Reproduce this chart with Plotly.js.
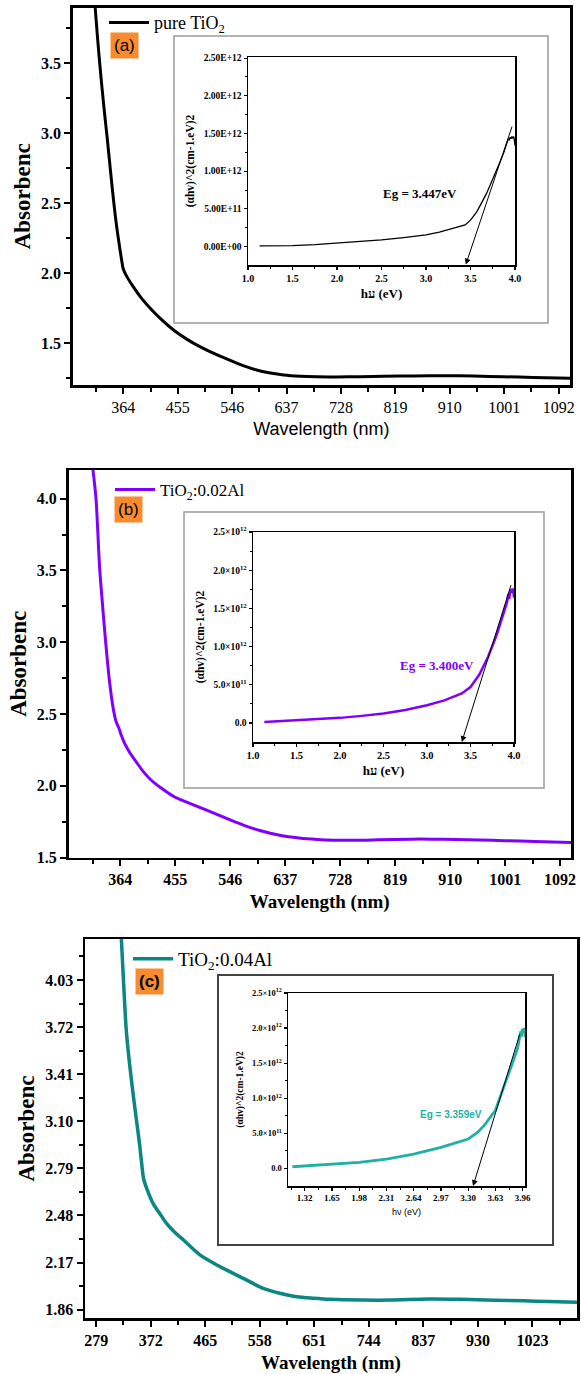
<!DOCTYPE html>
<html>
<head>
<meta charset="utf-8">
<script src="https://cdn.plot.ly/plotly-3.0.1.min.js"></script>
<style>html,body{margin:0;padding:0;background:#fff;}#chart{width:581px;height:1374px;}</style>
</head>
<body>
<div id="chart"></div>
<script>
// ---------- DATA ----------
// Panel (a) pure TiO2
const wavelengthA = [317, 321, 325, 329, 333, 337, 341, 345, 349, 353, 357, 361, 364, 370, 380, 394, 409, 428, 448, 470, 492, 520, 548, 567, 587, 610, 632, 660, 687, 720, 760, 800, 850, 900, 950, 1000, 1050, 1111];
const absorbA     = [3.90, 3.68, 3.48, 3.30, 3.13, 2.97, 2.80, 2.63, 2.47, 2.33, 2.21, 2.10, 2.03, 1.975, 1.907, 1.823, 1.749, 1.667, 1.593, 1.528, 1.474, 1.417, 1.367, 1.335, 1.307, 1.286, 1.272, 1.263, 1.259, 1.258, 1.259, 1.262, 1.265, 1.266, 1.264, 1.259, 1.254, 1.248];
// Panel (b) TiO2:0.02Al
const wavelengthB = [319, 324, 330, 335, 340, 346, 352, 357, 360, 362, 366, 372, 380, 390, 402, 415, 430, 455, 480, 505, 530, 548, 570, 595, 628, 660, 690, 720, 752, 790, 845, 880, 919, 960, 999, 1050, 1111];
const absorbB     = [4.20, 4.00, 3.52, 3.25, 3.00, 2.74, 2.55, 2.45, 2.42, 2.40, 2.35, 2.29, 2.23, 2.17, 2.10, 2.04, 1.99, 1.92, 1.876, 1.833, 1.790, 1.758, 1.722, 1.688, 1.655, 1.636, 1.626, 1.621, 1.620, 1.623, 1.628, 1.628, 1.626, 1.622, 1.617, 1.612, 1.605];
// Panel (c) TiO2:0.04Al
const wavelengthC = [322, 326, 330, 334, 338, 343, 348, 353, 357, 360, 366, 376, 388, 399, 413, 428, 456, 490, 530, 564, 592, 621, 650, 678, 735, 780, 847, 900, 960, 1008, 1050, 1099];
const absorbC     = [4.30, 4.00, 3.72, 3.55, 3.41, 3.25, 3.10, 2.95, 2.81, 2.72, 2.65, 2.56, 2.49, 2.428, 2.37, 2.318, 2.22, 2.143, 2.066, 2.00, 1.968, 1.945, 1.935, 1.928, 1.923, 1.923, 1.930, 1.928, 1.922, 1.918, 1.913, 1.908];

// Tauc plots (insets)
const energyA = [1.13, 1.3, 1.5, 1.75, 2.0, 2.25, 2.5, 2.75, 3.0, 3.15, 3.3, 3.44, 3.5, 3.57, 3.62, 3.68, 3.73, 3.78, 3.83, 3.87, 3.90, 3.91, 3.925, 3.935, 3.945, 3.955, 3.965, 3.975, 3.985, 3.993, 4.0];
const taucA   = [0.010e12, 0.011e12, 0.013e12, 0.025e12, 0.044e12, 0.062e12, 0.088e12, 0.118e12, 0.154e12, 0.190e12, 0.235e12, 0.287e12, 0.35e12, 0.46e12, 0.57e12, 0.705e12, 0.84e12, 0.97e12, 1.12e12, 1.235e12, 1.33e12, 1.37e12, 1.43e12, 1.41e12, 1.45e12, 1.43e12, 1.46e12, 1.44e12, 1.46e12, 1.41e12, 1.34e12];
const energyB = [1.13, 1.3, 1.5, 1.75, 2.0, 2.25, 2.5, 2.75, 3.0, 3.2, 3.4, 3.5, 3.6, 3.7, 3.8, 3.85, 3.9, 3.92, 3.935, 3.945, 3.955, 3.965, 3.975, 3.985, 3.993, 4.0];
const taucB   = [0.013e12, 0.022e12, 0.035e12, 0.048e12, 0.066e12, 0.092e12, 0.123e12, 0.168e12, 0.232e12, 0.295e12, 0.385e12, 0.47e12, 0.63e12, 0.86e12, 1.15e12, 1.33e12, 1.50e12, 1.58e12, 1.69e12, 1.62e12, 1.72e12, 1.75e12, 1.70e12, 1.76e12, 1.72e12, 1.64e12];
const energyC = [1.17, 1.32, 1.65, 1.98, 2.31, 2.64, 2.97, 3.15, 3.30, 3.41, 3.5, 3.63, 3.75, 3.85, 3.90, 3.92, 3.935, 3.945, 3.955, 3.965, 3.975, 3.985, 3.99];
const taucC   = [0.024e12, 0.035e12, 0.057e12, 0.086e12, 0.133e12, 0.205e12, 0.30e12, 0.36e12, 0.42e12, 0.51e12, 0.62e12, 0.83e12, 1.21e12, 1.55e12, 1.72e12, 1.83e12, 1.95e12, 1.88e12, 1.99e12, 1.93e12, 2.00e12, 1.95e12, 1.87e12];

// Band gaps and tangent line end points [hv, value]
const bandGaps   = [3.447, 3.400, 3.359];
const tangentTop = [[4.0, 1.71e12], [4.0, 1.93e12], [3.96, 2.05e12]];
const tangentLow = [-0.24e12, -0.25e12, -0.25e12];

// Tick labels
const ticksTauc_y = [0, 5e11, 1e12, 1.5e12, 2e12, 2.5e12];
const tickTextA_y = ['0.00E+00', '5.00E+11', '1.00E+12', '1.50E+12', '2.00E+12', '2.50E+12'];
const tickTextBC_y = ['0.0', '5.0×10<sup>11</sup>', '1.0×10<sup>12</sup>', '1.5×10<sup>12</sup>', '2.0×10<sup>12</sup>', '2.5×10<sup>12</sup>'];
const seriesNames = ['pure TiO<sub>2</sub>', 'TiO<sub>2</sub>:0.02Al', 'TiO<sub>2</sub>:0.04Al'];
const panelLabels = ['(a)', '(b)', '<b>(c)</b>'];

// ---------- LAYOUT HELPERS ----------
const W = 581, H = 1374;
const px = x => x / W;
const py = y => (H - y) / H;
const SERIF = 'Liberation Serif, Times New Roman, serif';
const SANS = 'Liberation Sans, Arial, sans-serif';
const purple = '#8000ff', tealMain = '#0a8782', tealInset = '#1fb0a6';

function mainX(dom, range, tick0, dtick, bold, anchor, titleText, titleFont) {
  return {
    domain: dom, range: range, anchor: anchor,
    tickmode: 'linear', tick0: tick0, dtick: dtick,
    ticks: 'outside', ticklen: 6, tickwidth: 2, tickcolor: '#000',
    minor: {ticks: 'outside', ticklen: 4, tickwidth: 2, tickcolor: '#000', dtick: dtick / 2, tick0: tick0},
    showline: true, linewidth: 2.5, linecolor: '#000', mirror: true,
    showgrid: false, zeroline: false,
    tickfont: {family: SERIF, size: 16, color: '#000', weight: bold ? 'bold' : 'normal'},
    title: {text: titleText, font: titleFont, standoff: 8}
  };
}
function mainY(dom, range, tick0, dtick, fmt, anchor) {
  return {
    domain: dom, range: range, anchor: anchor,
    tickmode: 'linear', tick0: tick0, dtick: dtick, tickformat: fmt,
    ticks: 'outside', ticklen: 6, tickwidth: 2, tickcolor: '#000',
    minor: {ticks: 'outside', ticklen: 4, tickwidth: 2, tickcolor: '#000', dtick: dtick / 2, tick0: tick0},
    showline: true, linewidth: 2.5, linecolor: '#000', mirror: true,
    showgrid: false, zeroline: false,
    tickfont: {family: SERIF, size: 16, color: '#000', weight: 'bold'},
    title: {text: 'Absorbenc', font: {family: SERIF, size: 23, color: '#000', weight: 'bold'}, standoff: 4}
  };
}
function insetX(dom, range, tick0, dtick, fmt, anchor, fontSize, titleText, titleFont) {
  return {
    domain: dom, range: range, anchor: anchor,
    tickmode: 'linear', tick0: tick0, dtick: dtick, tickformat: fmt,
    ticks: 'outside', ticklen: 3, tickwidth: 1.2, tickcolor: '#000',
    minor: {ticks: 'outside', ticklen: 2, tickwidth: 1, tickcolor: '#000', dtick: dtick / 2, tick0: tick0},
    showline: true, linewidth: 1.5, linecolor: '#000', mirror: true,
    showgrid: false, zeroline: false,
    tickfont: {family: SERIF, size: fontSize, color: '#000', weight: 'bold'},
    title: {text: titleText, font: titleFont, standoff: 6}
  };
}
function insetY(dom, range, tickText, anchor, fontSize, titleSize) {
  return {
    domain: dom, range: range, anchor: anchor,
    tickmode: 'array', tickvals: ticksTauc_y, ticktext: tickText,
    ticks: 'outside', ticklen: 3, tickwidth: 1.2, tickcolor: '#000',
    minor: {ticks: 'outside', ticklen: 2, tickwidth: 1, tickcolor: '#000', tickvals: [2.5e11, 7.5e11, 1.25e12, 1.75e12, 2.25e12]},
    showline: true, linewidth: 1.5, linecolor: '#000', mirror: true,
    showgrid: false, zeroline: false,
    tickfont: {family: SERIF, size: fontSize, color: '#000', weight: 'bold'},
    title: {text: '(αhv)^2(cm-1.eV)2', font: {family: SERIF, size: titleSize, color: '#000', weight: 'bold'}, standoff: 6}
  };
}

// ---------- TRACES ----------
const traces = [
  {x: wavelengthA, y: absorbA, xaxis: 'x', yaxis: 'y', mode: 'lines', name: seriesNames[0], legend: 'legend',
   line: {color: '#000', width: 3, shape: 'spline', smoothing: 0.8}},
  {x: wavelengthB, y: absorbB, xaxis: 'x2', yaxis: 'y2', mode: 'lines', name: seriesNames[1], legend: 'legend2',
   line: {color: purple, width: 3, shape: 'spline', smoothing: 0.8}},
  {x: wavelengthC, y: absorbC, xaxis: 'x3', yaxis: 'y3', mode: 'lines', name: seriesNames[2], legend: 'legend3',
   line: {color: tealMain, width: 3.5, shape: 'spline', smoothing: 0.8}},
  {x: energyA, y: taucA, xaxis: 'x4', yaxis: 'y4', mode: 'lines', showlegend: false,
   line: {color: '#000', width: 1.3}},
  {x: energyB, y: taucB, xaxis: 'x5', yaxis: 'y5', mode: 'lines', showlegend: false,
   line: {color: purple, width: 2.5}},
  {x: energyC, y: taucC, xaxis: 'x6', yaxis: 'y6', mode: 'lines', showlegend: false,
   line: {color: tealInset, width: 2.8}}
];

// ---------- LAYOUT ----------
const legendCommon = {bgcolor: 'rgba(0,0,0,0)', borderwidth: 0, xanchor: 'left', yanchor: 'middle',
  font: {family: SERIF, size: 17, color: '#000'}, tracegroupgap: 0, itemwidth: 40};

const tangentAnn = (i, xa, ya) => ({
  xref: xa, yref: ya, axref: xa, ayref: ya,
  x: bandGaps[i], y: tangentLow[i], ax: tangentTop[i][0], ay: tangentTop[i][1],
  showarrow: true, arrowhead: 2, arrowsize: 1.2, arrowwidth: 1, arrowcolor: '#000', standoff: 0, startstandoff: 0, text: ' '
});
const panelLabelAnn = (i, cx, cy) => ({
  xref: 'paper', yref: 'paper', x: px(cx), y: py(cy), xanchor: 'center', yanchor: 'middle',
  text: panelLabels[i], showarrow: false, bgcolor: '#f78c2f', borderpad: 3,
  font: {family: SANS, size: 17, color: '#000'}
});

const layout = {
  width: W, height: H,
  margin: {l: 0, r: 0, t: 0, b: 0},
  paper_bgcolor: '#fff', plot_bgcolor: 'rgba(0,0,0,0)',
  xaxis: mainX([px(72.7), px(570)], [279.4, 1111], 0, 91, false, 'y', 'Wavelength (nm)', {family: SANS, size: 18, color: '#000'}),
  yaxis: mainY([py(385), py(7.5)], [1.2, 3.9], 0, 0.5, '.1f', 'x'),
  xaxis2: mainX([px(68.5), px(571)], [278.5, 1110], 0, 91, true, 'y2', 'Wavelength (nm)', {family: SERIF, size: 19, color: '#000', weight: 'bold'}),
  yaxis2: mainY([py(857.5), py(470)], [1.5, 4.2], 0, 0.5, '.1f', 'x2'),
  xaxis3: mainX([px(85), px(577)], [260, 1099], 279, 93, true, 'y3', 'Wavelength (nm)', {family: SERIF, size: 19, color: '#000', weight: 'bold'}),
  yaxis3: mainY([py(1318), py(939)], [1.805, 4.30], 1.86, 0.31, '.2f', 'x3'),
  xaxis4: insetX([px(248), px(515)], [1.0, 4.0], 1.0, 0.5, '.1f', 'y4', 10, 'hע (eV)', {family: SERIF, size: 13, color: '#000', weight: 'bold'}),
  yaxis4: insetY([py(265), py(57)], [-0.245e12, 2.515e12], tickTextA_y, 'x4', 9.5, 11.5),
  xaxis5: insetX([px(253), px(514)], [1.0, 4.0], 1.0, 0.5, '.1f', 'y5', 10.5, 'hע (eV)', {family: SERIF, size: 13, color: '#000', weight: 'bold'}),
  yaxis5: insetY([py(742), py(532)], [-0.25e12, 2.5e12], tickTextBC_y, 'x5', 9.5, 11.5),
  xaxis6: insetX([px(288), px(525)], [1.118, 3.988], 1.32, 0.33, '.2f', 'y6', 9, 'hν (eV)', {family: SANS, size: 9, color: '#000'}),
  yaxis6: insetY([py(1186), py(993)], [-0.25e12, 2.5e12], tickTextBC_y, 'x6', 8.5, 9.5),
  legend:  Object.assign({}, legendCommon, {x: px(104), y: py(22.7), font: {family: SERIF, size: 18, color: '#000'}}),
  legend2: Object.assign({}, legendCommon, {x: px(110), y: py(490)}),
  legend3: Object.assign({}, legendCommon, {x: px(128), y: py(959), font: {family: SERIF, size: 19, color: '#000'}}),
  shapes: [
    {type: 'rect', xref: 'paper', yref: 'paper', x0: px(174), x1: px(548), y0: py(323), y1: py(36), line: {color: '#9a9a9a', width: 1.5}, layer: 'below'},
    {type: 'rect', xref: 'paper', yref: 'paper', x0: px(184), x1: px(544), y0: py(788), y1: py(512), line: {color: '#9a9a9a', width: 1.5}, layer: 'below'},
    {type: 'rect', xref: 'paper', yref: 'paper', x0: px(218), x1: px(553), y0: py(1245), y1: py(975), line: {color: '#444', width: 2}, layer: 'below'}
  ],
  annotations: [
    panelLabelAnn(0, 124.5, 45),
    panelLabelAnn(1, 128.5, 510),
    panelLabelAnn(2, 149, 981.5),
    tangentAnn(0, 'x4', 'y4'),
    tangentAnn(1, 'x5', 'y5'),
    tangentAnn(2, 'x6', 'y6'),
    {xref: 'x4', yref: 'y4', x: 2.93, y: 0.70e12, text: '<b>Eg = ' + bandGaps[0].toFixed(3) + 'eV</b>', showarrow: false,
     font: {family: SERIF, size: 13, color: '#000'}},
    {xref: 'x5', yref: 'y5', x: 3.117, y: 0.757e12, text: '<b>Eg = ' + bandGaps[1].toFixed(3) + 'eV</b>', showarrow: false,
     font: {family: SERIF, size: 13, color: purple}},
    {xref: 'x6', yref: 'y6', x: 3.087, y: 0.771e12, text: '<b>Eg = ' + bandGaps[2].toFixed(3) + 'eV</b>', showarrow: false,
     font: {family: SANS, size: 10, color: tealInset}}
  ]
};

Plotly.newPlot('chart', traces, layout, {staticPlot: true, displayModeBar: false});
</script>
</body>
</html>
